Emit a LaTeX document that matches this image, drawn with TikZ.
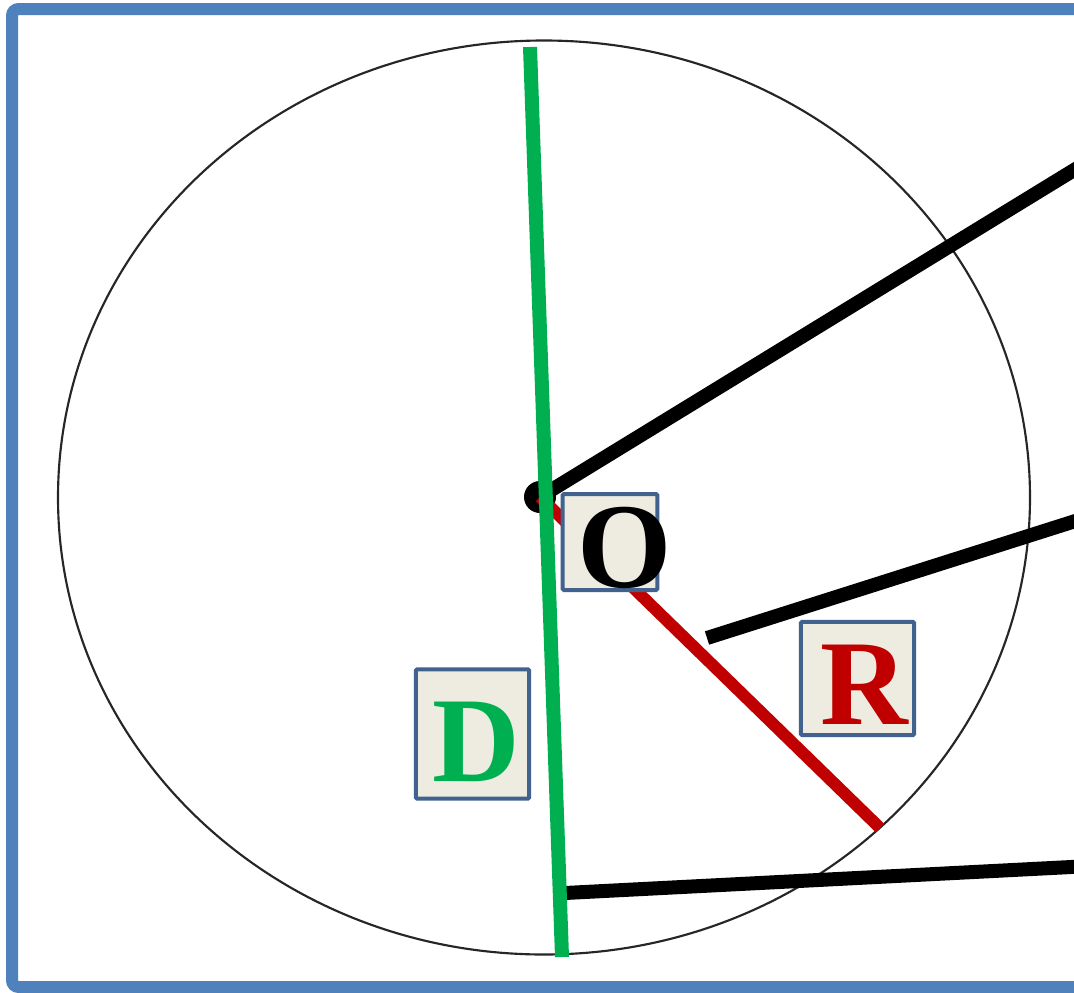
\documentclass[tikz,border=0pt]{standalone}
\usepackage{fontspec}
\setmainfont{Liberation Serif}
\usetikzlibrary{positioning}
\definecolor{frameblue}{HTML}{4F81BD}
\definecolor{boxedge}{HTML}{41618F}
\definecolor{boxfill}{HTML}{EEECE1}
\definecolor{diamgreen}{HTML}{00B050}
\definecolor{radred}{HTML}{C00000}
\tikzset{
  frame/.style={draw=frameblue,line width=9pt,rounded corners=5pt},
  rim/.style={draw=black!85,line width=1.6pt},
  diam/.style={draw=diamgreen,line width=10.5pt},
  rad/.style={draw=radred,line width=9pt},
  ray/.style={draw=black,line width=10.5pt},
  labelbox/.style={draw=boxedge,fill=boxfill,line width=3pt,rounded corners=1pt,inner sep=0pt},
  letter/.style={font=\fontsize{91}{91}\selectfont\bfseries,inner sep=0pt}}

\begin{document}
\begin{tikzpicture}[x=.75pt,y=-.75pt]
\useasboundingbox (0,0) rectangle (1074,992);
\clip (0,0) rectangle (1074,992);
\fill[white] (0,0) rectangle (1074,992);
\draw[frame] (12,9) rectangle (1110,987);
\draw[rim] (544,497.5) ellipse [x radius=486,y radius=457];

\coordinate (O) at (540,497);
\coordinate (dtop) at (530,47);
\coordinate (dbot) at (562,957);
\coordinate (rend) at (880,828);
\coordinate (a1) at (1110,148);
\coordinate (b0) at (707,638);
\coordinate (b1) at (1110,510);
\coordinate (c0) at (565,893);
\coordinate (c1) at (1110,865);

\fill[black] (O) circle (16);
\draw[ray] (O) -- (a1);
\draw[ray] (b0) -- (b1);
\draw[ray] (c0) -- (c1);
\draw[rad] (O) -- (rend);
\draw[diam] (dtop) -- (dbot);

\node[labelbox,minimum width=71pt,minimum height=72pt] (obox) at (610,542) {};
\node[letter] (olab) at (625,548) {O};
\node[labelbox,minimum width=85pt,minimum height=85pt] (rbox) at (857.5,678.5) {};
\node[letter,text=radred] (rlab) at (864,684.5) {R};
\node[labelbox,minimum width=85pt,minimum height=97pt] (dbox) at (472.5,734) {};
\node[letter,text=diamgreen] (dlab) at (476,742) {D};
\end{tikzpicture}
\end{document}
